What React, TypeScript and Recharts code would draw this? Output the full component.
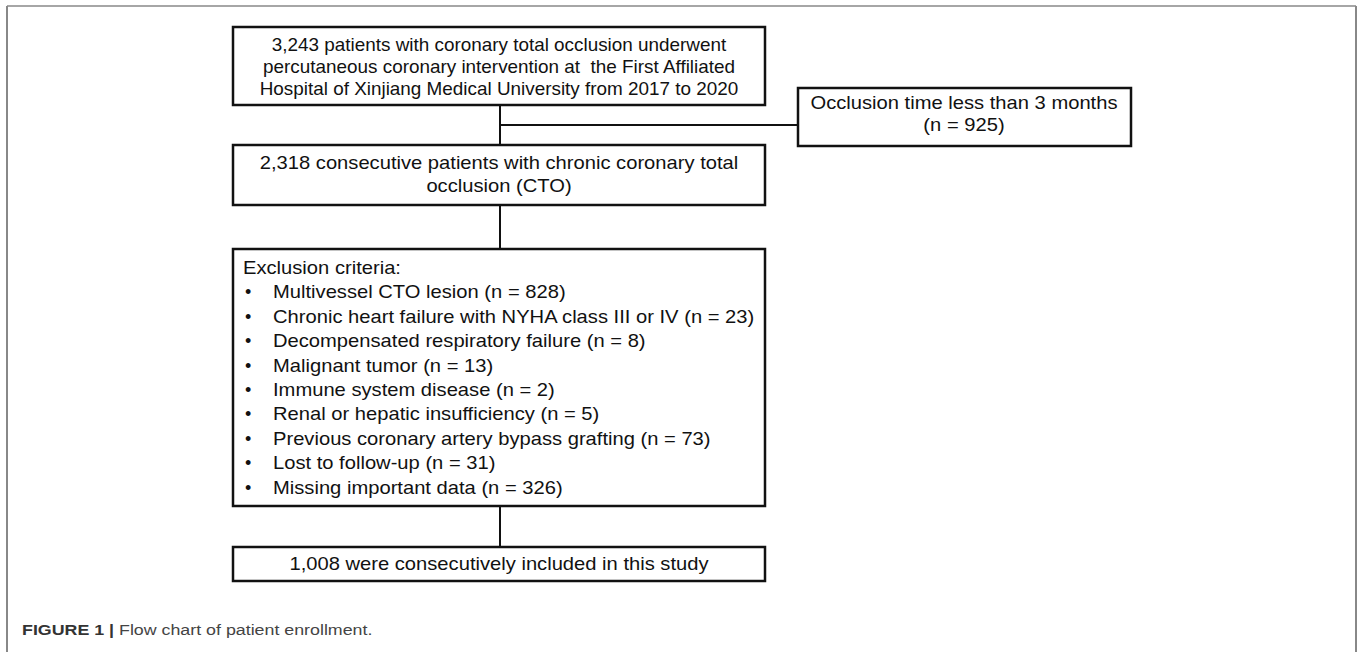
import React from "react";
import {
  ScatterChart,
  Scatter,
  XAxis,
  YAxis,
  ReferenceArea,
  ReferenceLine,
} from "recharts";

const W = 1358;
const H = 652;
const FONT = "'Liberation Sans', Arial, sans-serif";

// flow boxes, in page pixels
const boxes = [
  { id: "screened", x1: 233, x2: 765, y1: 27, y2: 105 },
  { id: "excludedEarly", x1: 798, x2: 1131, y1: 88, y2: 146 },
  { id: "cto", x1: 233, x2: 765, y1: 145, y2: 205 },
  { id: "criteria", x1: 233, x2: 765, y1: 249, y2: 506 },
  { id: "included", x1: 233, x2: 765, y1: 547, y2: 581 },
];

const connectors = [
  { x1: 500, y1: 105, x2: 500, y2: 145 },
  { x1: 500, y1: 125, x2: 798, y2: 125 },
  { x1: 500, y1: 205, x2: 500, y2: 249 },
  { x1: 500, y1: 506, x2: 500, y2: 547 },
];

const screenedLines = [
  "3,243 patients with coronary total occlusion underwent",
  "percutaneous coronary intervention at  the First Affiliated",
  "Hospital of Xinjiang Medical University from 2017 to 2020",
];
const excludedEarlyLines = ["Occlusion time less than 3 months", "(n = 925)"];
const ctoLines = [
  "2,318 consecutive patients with chronic coronary total",
  "occlusion (CTO)",
];
const criteriaTitle = "Exclusion criteria:";
const criteriaItems = [
  "Multivessel CTO lesion (n = 828)",
  "Chronic heart failure with NYHA class III or IV (n = 23)",
  "Decompensated respiratory failure (n = 8)",
  "Malignant tumor (n = 13)",
  "Immune system disease (n = 2)",
  "Renal or hepatic insufficiency (n = 5)",
  "Previous coronary artery bypass grafting (n = 73)",
  "Lost to follow-up (n = 31)",
  "Missing important data (n = 326)",
];
const includedLines = ["1,008 were consecutively included in this study"];

// the figure's type is a little wider than Arial; stretch it horizontally
const WIDE = 1.12;
const TOP_WIDE = 1.05;

type TextPoint = { x: number; y: number; text: string; anchor: string; sx: number };

const centered = (lines: string[], cx: number, y0: number, step: number, sx: number) =>
  lines.map((t, i) => ({ x: cx, y: y0 + i * step, text: t, anchor: "middle", sx }));

const textPoints: TextPoint[] = [
  ...centered(screenedLines, 499, 45, 22, TOP_WIDE),
  ...centered(excludedEarlyLines, 964, 103, 22, WIDE),
  ...centered(ctoLines, 499, 163, 23, WIDE),
  { x: 243, y: 268, text: criteriaTitle, anchor: "start", sx: WIDE },
  ...criteriaItems.flatMap((t, i) => [
    { x: 245, y: 292 + i * 24.4, text: "•", anchor: "start", sx: 1 },
    { x: 273, y: 292 + i * 24.4, text: t, anchor: "start", sx: WIDE },
  ]),
  ...centered(includedLines, 499, 564, 22, WIDE),
];

const captionPoints = [
  { x: 22, y: 630, label: "FIGURE 1 |", text: " Flow chart of patient enrollment." },
];

const TextShape = (props: any) => {
  const { cx, cy, payload } = props;
  return (
    <text
      transform={`translate(${cx} ${cy}) scale(${payload.sx} 1)`}
      x={0}
      y={0}
      dy="0.35em"
      textAnchor={payload.anchor}
      fontFamily={FONT}
      fontSize={18}
      fill="#111"
      style={{ whiteSpace: "pre" }}
    >
      {payload.text}
    </text>
  );
};

const CaptionShape = (props: any) => {
  const { cx, cy, payload } = props;
  return (
    <text
      transform={`translate(${cx} ${cy}) scale(1.15 1)`}
      x={0}
      y={0}
      dy="0.35em"
      fontFamily={FONT}
      fontSize={15.5}
      fill="#333"
      style={{ whiteSpace: "pre" }}
    >
      <tspan fontWeight="bold">{payload.label}</tspan>
      <tspan fill="#444">{payload.text}</tspan>
    </text>
  );
};

export default function App() {
  return (
    <div style={{ position: "absolute", left: 0, top: 0, background: "#fff" }}>
      <ScatterChart width={W} height={H} margin={{ top: 0, right: 0, bottom: 0, left: 0 }}>
        <XAxis type="number" dataKey="x" domain={[0, W]} hide />
        <YAxis type="number" dataKey="y" domain={[0, H]} reversed hide />

        {/* outer figure frame, open at the bottom */}
        <ReferenceLine segment={[{ x: 7, y: 6 }, { x: 1356, y: 6 }]} stroke="#888" strokeWidth={1.5} />
        <ReferenceLine segment={[{ x: 7, y: 6 }, { x: 7, y: H }]} stroke="#888" strokeWidth={2} />
        <ReferenceLine segment={[{ x: 1356, y: 6 }, { x: 1356, y: H }]} stroke="#888" strokeWidth={2} />

        {connectors.map((c, i) => (
          <ReferenceLine
            key={`c${i}`}
            segment={[{ x: c.x1, y: c.y1 }, { x: c.x2, y: c.y2 }]}
            stroke="#111"
            strokeWidth={2}
          />
        ))}
        {boxes.map((b) => (
          <ReferenceArea
            key={b.id}
            x1={b.x1}
            x2={b.x2}
            y1={b.y1}
            y2={b.y2}
            fill="#fff"
            fillOpacity={1}
            stroke="#111"
            strokeWidth={2.5}
          />
        ))}

        <Scatter data={textPoints} shape={<TextShape />} isAnimationActive={false} />
        <Scatter data={captionPoints} shape={<CaptionShape />} isAnimationActive={false} />
      </ScatterChart>
    </div>
  );
}
